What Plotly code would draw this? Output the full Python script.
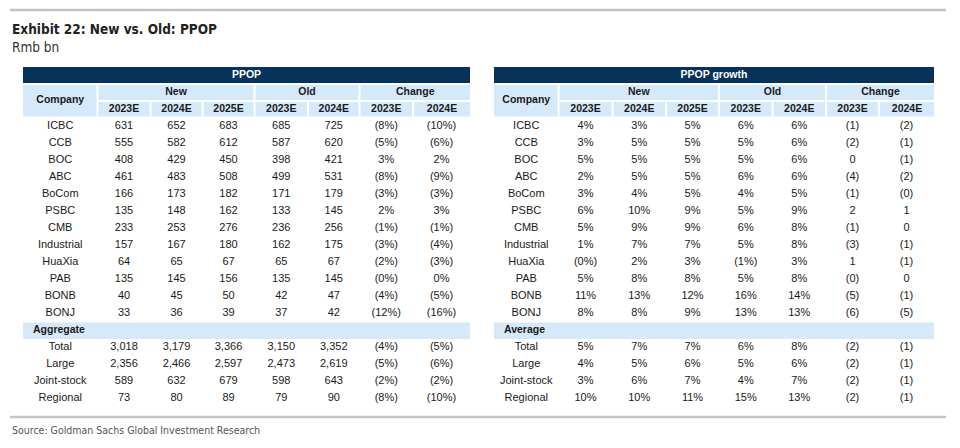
import plotly.graph_objects as go

# ---------------- data ----------------
companies = ["ICBC", "CCB", "BOC", "ABC", "BoCom", "PSBC", "CMB", "Industrial",
             "HuaXia", "PAB", "BONB", "BONJ"]
groups = ["Total", "Large", "Joint-stock", "Regional"]
year_labels = ["2023E", "2024E", "2025E", "2023E", "2024E", "2023E", "2024E"]
group_labels = ["New", "Old", "Change"]

# PPOP (Rmb bn)
ppop_new_2023 = [631, 555, 408, 461, 166, 135, 233, 157, 64, 135, 40, 33]
ppop_new_2024 = [652, 582, 429, 483, 173, 148, 253, 167, 65, 145, 45, 36]
ppop_new_2025 = [683, 612, 450, 508, 182, 162, 276, 180, 67, 156, 50, 39]
ppop_old_2023 = [685, 587, 398, 499, 171, 133, 236, 162, 65, 135, 42, 37]
ppop_old_2024 = [725, 620, 421, 531, 179, 145, 256, 175, 67, 145, 47, 42]
ppop_chg_2023 = [-8, -5, 3, -8, -3, 2, -1, -3, -2, -0.2, -4, -12]
ppop_chg_2024 = [-10, -6, 2, -9, -3, 3, -1, -4, -3, 0, -5, -16]

agg_new_2023 = [3018, 2356, 589, 73]
agg_new_2024 = [3179, 2466, 632, 80]
agg_new_2025 = [3366, 2597, 679, 89]
agg_old_2023 = [3150, 2473, 598, 79]
agg_old_2024 = [3352, 2619, 643, 90]
agg_chg_2023 = [-4, -5, -2, -8]
agg_chg_2024 = [-5, -6, -2, -10]

# PPOP growth (%), change in ppt
gr_new_2023 = [4, 3, 5, 2, 3, 6, 5, 1, -0.3, 5, 11, 8]
gr_new_2024 = [3, 5, 5, 5, 4, 10, 9, 7, 2, 8, 13, 8]
gr_new_2025 = [5, 5, 5, 5, 5, 9, 9, 7, 3, 8, 12, 9]
gr_old_2023 = [6, 5, 5, 6, 4, 5, 6, 5, -1, 5, 16, 13]
gr_old_2024 = [6, 6, 6, 6, 5, 9, 8, 8, 3, 8, 14, 13]
gr_chg_2023 = [-1, -2, 0, -4, -1, 2, -1, -3, 1, -0.2, -5, -6]
gr_chg_2024 = [-2, -1, -1, -2, -0.2, 1, 0, -1, -1, 0, -1, -5]

avg_new_2023 = [5, 4, 3, 10]
avg_new_2024 = [7, 5, 6, 10]
avg_new_2025 = [7, 6, 7, 11]
avg_old_2023 = [6, 5, 4, 15]
avg_old_2024 = [8, 6, 7, 13]
avg_chg_2023 = [-2, -2, -2, -2]
avg_chg_2024 = [-1, -1, -1, -1]


# ---------------- formatting ----------------
def f_num(v):
    return f"{v:,.0f}"


def f_pct(v):
    return f"({abs(v):.0f}%)" if v < 0 else f"{v:.0f}%"


def f_pp(v):
    return f"({abs(v):.0f})" if v < 0 else f"{v:.0f}"


NAVY = "#05335c"
LIGHT = "#d5e9fb"
TXT = "#1a1a1a"
FONT = "Liberation Sans, Arial, sans-serif"
NARROW = "Liberation Sans Narrow, Arial Narrow, DejaVu Sans Condensed, sans-serif"

# page offset (browser body margin) compensation
OFF = 8

# ---------------- layout geometry ----------------
left_edges = [23, 97.5, 150.5, 202.5, 254.5, 308, 359.5, 413, 470]
right_edges = [494, 558.5, 612.5, 666, 719, 772.5, 826, 879, 934]
y_title_band = (67, 83)
y_group_row = (85, 100)
y_year_row = (102, 116.5)
row_y0 = 126.5
row_pitch = 17.0

fig = go.Figure()
shapes = []
annotations = []


def rect(x0, x1, y0, y1, color):
    shapes.append(dict(type="rect", xref="x", yref="y", x0=x0, x1=x1, y0=y0, y1=y1,
                       fillcolor=color, line=dict(width=0), layer="below"))


def add_text_col(xs, ys, texts, bold=False, color=TXT, size=11, pos="middle center"):
    fig.add_trace(go.Scatter(
        x=xs, y=ys, text=[f"<b>{t}</b>" if bold else t for t in texts],
        mode="text", textposition=pos, hoverinfo="skip", showlegend=False,
        textfont=dict(family=FONT, size=size, color=color)))


def build_table(edges, title, row_cols, bottom_label, bottom_cols, names_top, names_bottom):
    g = 1.0  # half gap
    rect(edges[0], edges[-1], y_title_band[0], y_title_band[1], NAVY)
    cx_all = (edges[0] + edges[-1]) / 2
    add_text_col([cx_all], [sum(y_title_band) / 2], [title], bold=True, color="white", size=10.5)
    rect(edges[0], edges[1] - g, y_group_row[0], y_year_row[1], LIGHT)
    add_text_col([(edges[0] + edges[1]) / 2], [(y_group_row[0] + y_year_row[1]) / 2],
                 ["Company"], bold=True, size=10.5)
    spans = [(1, 4), (4, 6), (6, 8)]
    for (a, b), lab in zip(spans, group_labels):
        x0 = edges[a] + g
        x1 = edges[b] - g if b < 8 else edges[b]
        rect(x0, x1, y_group_row[0], y_group_row[1], LIGHT)
        add_text_col([(x0 + x1) / 2], [sum(y_group_row) / 2], [lab], bold=True, size=10.5)
    for i, lab in enumerate(year_labels):
        x0 = edges[i + 1] + g
        x1 = edges[i + 2] - g if i < 6 else edges[i + 2]
        rect(x0, x1, y_year_row[0], y_year_row[1], LIGHT)
        add_text_col([(x0 + x1) / 2], [sum(y_year_row) / 2], [lab], bold=True, size=10.5)
    ys_top = [row_y0 + row_pitch * i for i in range(len(names_top))]
    y_band = row_y0 + row_pitch * len(names_top)
    ys_bot = [y_band + row_pitch * (i + 1) for i in range(len(names_bottom))]
    centers = [(edges[i] + edges[i + 1]) / 2 for i in range(8)]
    add_text_col([centers[0]] * len(names_top), ys_top, names_top)
    add_text_col([centers[0]] * len(names_bottom), ys_bot, names_bottom)
    for c, (vals, fmt) in enumerate(row_cols):
        add_text_col([centers[c + 1]] * len(vals), ys_top, [fmt(v) for v in vals])
    for c, (vals, fmt) in enumerate(bottom_cols):
        add_text_col([centers[c + 1]] * len(vals), ys_bot, [fmt(v) for v in vals])
    rect(edges[0], edges[-1], y_band - 8, y_band + 8.5, LIGHT)
    add_text_col([edges[0] + 10], [y_band], [bottom_label], bold=True, pos="middle right", size=10.5)


build_table(
    left_edges, "PPOP",
    [(ppop_new_2023, f_num), (ppop_new_2024, f_num), (ppop_new_2025, f_num),
     (ppop_old_2023, f_num), (ppop_old_2024, f_num),
     (ppop_chg_2023, f_pct), (ppop_chg_2024, f_pct)],
    "Aggregate",
    [(agg_new_2023, f_num), (agg_new_2024, f_num), (agg_new_2025, f_num),
     (agg_old_2023, f_num), (agg_old_2024, f_num),
     (agg_chg_2023, f_pct), (agg_chg_2024, f_pct)],
    companies, groups)

build_table(
    right_edges, "PPOP growth",
    [(gr_new_2023, f_pct), (gr_new_2024, f_pct), (gr_new_2025, f_pct),
     (gr_old_2023, f_pct), (gr_old_2024, f_pct),
     (gr_chg_2023, f_pp), (gr_chg_2024, f_pp)],
    "Average",
    [(avg_new_2023, f_pct), (avg_new_2024, f_pct), (avg_new_2025, f_pct),
     (avg_old_2023, f_pct), (avg_old_2024, f_pct),
     (avg_chg_2023, f_pp), (avg_chg_2024, f_pp)],
    companies, groups)

for yy in (10, 417):
    shapes.append(dict(type="line", xref="x", yref="y", x0=10, x1=946, y0=yy, y1=yy,
                       line=dict(color="#c4c4c4", width=2.5)))

annotations.append(dict(x=10, y=28.5, xref="x", yref="y", xanchor="left", yanchor="middle",
                        text="<b>Exhibit 22: New vs. Old: PPOP</b>", showarrow=False,
                        font=dict(family=NARROW, size=13.5, color="#222222")))
annotations.append(dict(x=10, y=47, xref="x", yref="y", xanchor="left", yanchor="middle",
                        text="Rmb bn", showarrow=False,
                        font=dict(family=NARROW, size=13.5, color="#333333")))
annotations.append(dict(x=10, y=429.5, xref="x", yref="y", xanchor="left", yanchor="middle",
                        text="Source: Goldman Sachs Global Investment Research", showarrow=False,
                        font=dict(family=NARROW, size=10.5, color="#555555")))

fig.update_layout(
    width=960, height=448,
    margin=dict(l=0, r=0, t=0, b=0),
    paper_bgcolor="white", plot_bgcolor="white",
    xaxis=dict(range=[OFF, 960 + OFF], visible=False, fixedrange=True),
    yaxis=dict(range=[448 + OFF, OFF], visible=False, fixedrange=True),
    shapes=shapes, annotations=annotations, showlegend=False,
)

fig.write_html("out.html")
